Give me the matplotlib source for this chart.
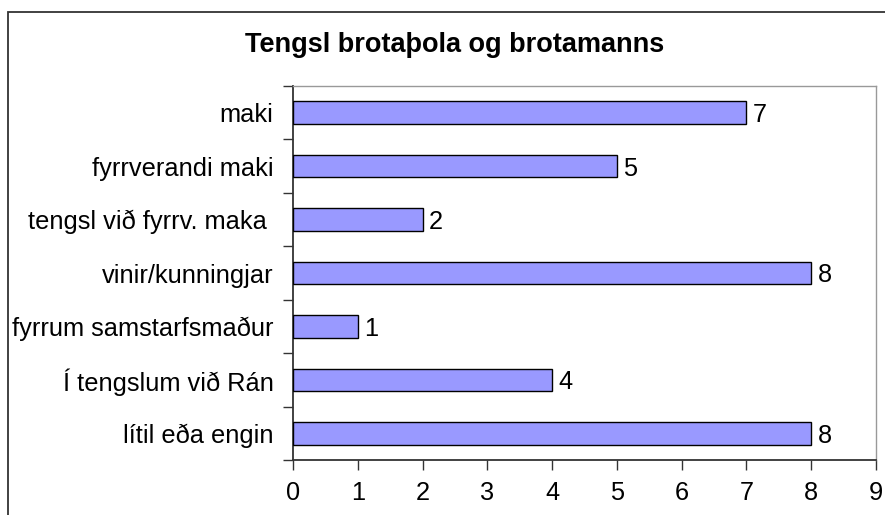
import matplotlib
matplotlib.use("Agg")
import matplotlib.pyplot as plt
from matplotlib.patches import Rectangle

TITLE = "Tengsl brotaþola og brotamanns"
categories = [
    "maki",
    "fyrrverandi maki",
    "tengsl við fyrrv. maka ",
    "vinir/kunningjar",
    "fyrrum samstarfsmaður",
    "Í tengslum við Rán",
    "lítil eða engin",
]
counts = [7, 5, 2, 8, 1, 4, 8]
xticks = list(range(0, 10))

BAR_COLOR = "#9999ff"
INK = "#000000"
FS = 18.3

plt.rcParams["font.family"] = ["Liberation Sans", "DejaVu Sans"]

fig = plt.figure(figsize=(8.85, 5.15), dpi=100)
fig.patch.set_facecolor("white")

# outer chart border (left and top visible, right/bottom run off the image)
fig.add_artist(Rectangle((8 / 885, -0.05), 1.1, 1 - 12 / 515 + 0.05,
                         transform=fig.transFigure, fill=False,
                         edgecolor="#333333", linewidth=1.3))

ax = fig.add_axes([293 / 885, 1 - 460 / 515, (876 - 293) / 885, (460 - 86) / 515])

ypos = list(range(len(categories)))
ax.barh(ypos, counts, height=0.42, color=BAR_COLOR, edgecolor=INK,
        linewidth=1.0, zorder=3)
for y, v in zip(ypos, counts):
    ax.text(v + 0.1, y, str(v), ha="left", va="center_baseline",
            fontsize=FS, color=INK)

ax.set_xlim(0, 9)
ax.set_ylim(len(categories) - 0.5, -0.5)
ax.set_xticks(xticks)
ax.set_xticklabels([str(t) for t in xticks], fontsize=FS)
ax.set_yticks(ypos)
ax.set_yticklabels(categories, fontsize=FS)
ax.tick_params(axis="y", which="major", length=0, pad=14)
ax.set_yticks([y + 0.5 for y in range(-1, len(categories))], minor=True)
ax.tick_params(axis="y", which="minor", length=7, width=1, color="#333333")
ax.tick_params(axis="x", length=7, width=1, color="#333333", pad=8)

for spine in ("top", "right"):
    ax.spines[spine].set_color("#999999")
    ax.spines[spine].set_linewidth(1.0)
for spine in ("left", "bottom"):
    ax.spines[spine].set_color("#333333")
    ax.spines[spine].set_linewidth(1.3)

fig.text(455 / 885, 1 - 45 / 515, TITLE, ha="center", va="center",
         fontsize=19.5, fontweight="bold", color=INK)

fig.savefig("out.png", dpi=100, facecolor="white")
